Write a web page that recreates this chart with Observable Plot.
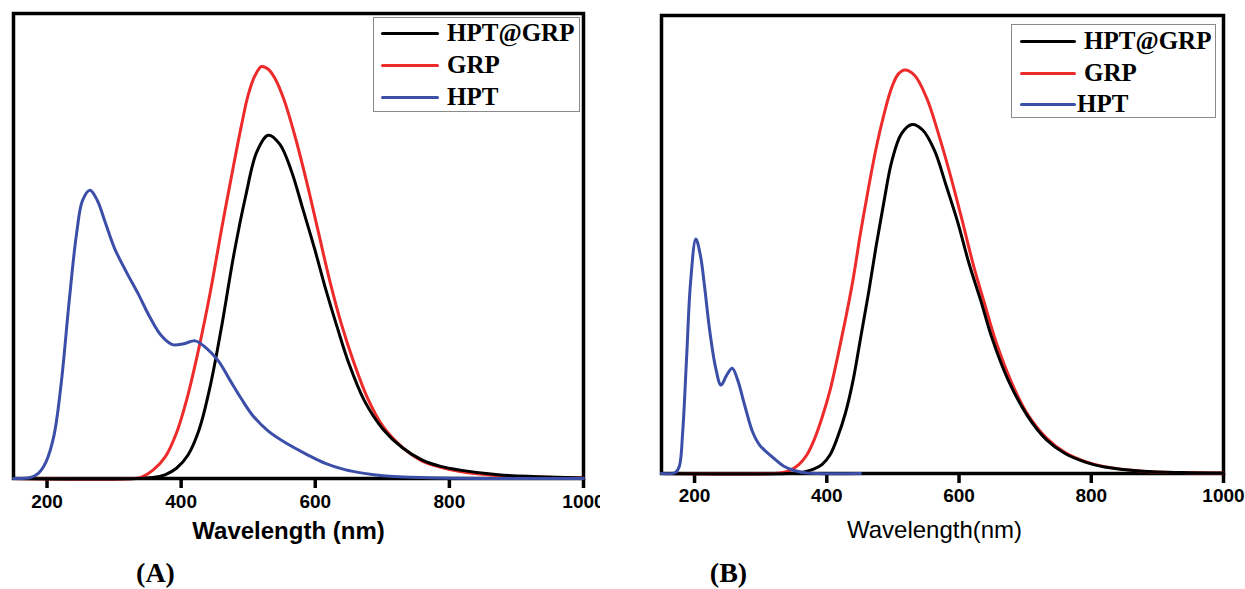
<!DOCTYPE html>
<html><head><meta charset="utf-8">
<script src="https://cdn.jsdelivr.net/npm/d3@7"></script>
<script src="https://cdn.jsdelivr.net/npm/@observablehq/plot@0.6"></script>
<style>
body{margin:0;background:#fff;}
#wrap{position:relative;width:1245px;height:589px;overflow:hidden;background:#fff;}
.panel{position:absolute;top:0;}
.legend{position:absolute;border:1px solid #8a8a8a;background:#fff;box-sizing:border-box;}
.sw{position:absolute;height:3px;border-radius:1.5px;}
.lt{position:absolute;font-family:"Liberation Serif","Times New Roman",serif;font-weight:bold;font-size:25px;line-height:25px;white-space:nowrap;color:#000;}
</style></head><body><div id="wrap"></div>
<script>
const seriesNames = ["HPT@GRP", "GRP", "HPT"];
const seriesColors = ["#000000", "#ee2b2b", "#3c4fa8"];
const xTicks = [200, 400, 600, 800, 1000];
const xDomain = [150, 1000];
const panelLabels = ["(A)", "(B)"];
const axisLabels = ["Wavelength (nm)", "Wavelength(nm)"];

// Panel A
const aHgNm = [150, 358, 376, 393, 410, 427, 444, 461, 478, 496, 513, 530, 547, 564, 581, 599, 616, 633, 650, 673, 701, 730, 759, 787, 816, 873, 930, 1000];
const aHgI  = [0, 0.002, 0.008, 0.022, 0.050, 0.106, 0.203, 0.332, 0.477, 0.606, 0.703, 0.738, 0.719, 0.663, 0.582, 0.494, 0.405, 0.324, 0.248, 0.168, 0.106, 0.066, 0.040, 0.026, 0.018, 0.008, 0.004, 0.001];
const aGrpNm = [150, 330, 341, 358, 376, 393, 410, 427, 444, 461, 478, 490, 500, 510, 520, 530, 540, 553, 570, 587, 604, 621, 639, 656, 678, 701, 730, 759, 787, 816, 873, 930, 1000];
const aGrpI  = [0, 0, 0.003, 0.018, 0.046, 0.098, 0.179, 0.284, 0.405, 0.542, 0.672, 0.760, 0.825, 0.866, 0.886, 0.880, 0.860, 0.816, 0.735, 0.639, 0.534, 0.429, 0.332, 0.256, 0.173, 0.112, 0.067, 0.038, 0.024, 0.015, 0.006, 0.003, 0.001];
const aHptNm = [150, 175, 187, 198, 210, 221, 233, 244, 253, 264, 275, 287, 301, 318, 336, 353, 370, 387, 404, 421, 438, 456, 473, 490, 507, 530, 559, 587, 616, 644, 673, 701, 759, 850, 1000];
const aHptI  = [0, 0.002, 0.011, 0.034, 0.090, 0.203, 0.381, 0.526, 0.598, 0.620, 0.598, 0.550, 0.494, 0.445, 0.397, 0.348, 0.308, 0.288, 0.290, 0.296, 0.280, 0.252, 0.211, 0.171, 0.135, 0.102, 0.074, 0.052, 0.032, 0.019, 0.011, 0.006, 0.002, 0, 0];

// Panel B
const bHgNm = [150, 340, 364, 381, 393, 405, 416, 428, 440, 451, 463, 475, 487, 498, 513, 529, 545, 563, 580, 598, 615, 633, 650, 674, 703, 732, 761, 791, 820, 878, 937, 1000];
const bHgI  = [0, 0, 0.003, 0.010, 0.020, 0.041, 0.078, 0.131, 0.205, 0.295, 0.393, 0.500, 0.598, 0.680, 0.742, 0.762, 0.750, 0.705, 0.631, 0.549, 0.459, 0.377, 0.295, 0.205, 0.127, 0.074, 0.043, 0.025, 0.014, 0.005, 0.002, 0.001];
const bGrpNm = [150, 320, 334, 346, 358, 370, 381, 393, 405, 416, 428, 440, 451, 463, 475, 487, 498, 508, 518, 533, 551, 568, 586, 604, 621, 639, 656, 680, 703, 732, 761, 791, 820, 878, 937, 1000];
const bGrpI  = [0, 0, 0.002, 0.008, 0.020, 0.041, 0.074, 0.123, 0.182, 0.252, 0.335, 0.426, 0.525, 0.623, 0.713, 0.787, 0.842, 0.872, 0.881, 0.869, 0.820, 0.746, 0.656, 0.557, 0.459, 0.369, 0.287, 0.197, 0.131, 0.078, 0.045, 0.026, 0.015, 0.005, 0.002, 0.001];
const bHptNm = [150, 171, 177, 182, 188, 194, 202, 209, 215, 223, 232, 240, 248, 257, 265, 276, 288, 299, 317, 335, 352, 370, 451];
const bHptI  = [0, 0.002, 0.016, 0.090, 0.254, 0.418, 0.512, 0.475, 0.410, 0.311, 0.230, 0.193, 0.213, 0.230, 0.205, 0.148, 0.090, 0.061, 0.037, 0.016, 0.006, 0.001, 0];

function rows(nm, vals, s) { return nm.map((x, i) => ({nm: x, v: vals[i], s})); }

const panelAData = [
  ...rows(aGrpNm, aGrpI, "GRP"),
  ...rows(aHgNm, aHgI, "HPT@GRP"),
  ...rows(aHptNm, aHptI, "HPT")
];
const panelBData = [
  ...rows(bGrpNm, bGrpI, "GRP"),
  ...rows(bHgNm, bHgI, "HPT@GRP"),
  ...rows(bHptNm, bHptI, "HPT")
];

function makePanel(data, cfg) {
  return Plot.plot({
    width: cfg.width, height: 589,
    marginLeft: cfg.ml, marginRight: cfg.mr, marginTop: cfg.mt, marginBottom: cfg.mb,
    x: {domain: xDomain},
    y: {domain: [0, 1], axis: null},
    color: {domain: seriesNames, range: seriesColors},
    style: {fontFamily: "'Liberation Sans', Arial, sans-serif", overflow: "hidden", background: "transparent", color: "#000"},
    marks: [
      Plot.frame({stroke: "#000", strokeWidth: 3.5}),
      Plot.axisX({ticks: xTicks, tickSize: 10, tickPadding: cfg.tp, stroke: "#000", strokeWidth: 3.5, fontSize: 19, fontWeight: "bold", label: null, tickFormat: d => String(d)}),
      Plot.line(data, {x: "nm", y: "v", z: "s", stroke: "s", strokeWidth: 3, curve: "catmull-rom", strokeLinejoin: "round"}),
      Plot.text([cfg.axisLabel], {text: d => d, frameAnchor: "bottom", dx: cfg.ldx, dy: cfg.ldy, fontSize: 24, fontWeight: cfg.lw, fill: "#000"}),
      Plot.text([cfg.panelLabel], {text: d => d, frameAnchor: "bottom", dx: cfg.pdx, dy: cfg.pdy, fontSize: 28, fontWeight: "bold", fontFamily: "'Liberation Serif', 'Times New Roman', serif", fill: "#000"})
    ]
  });
}

const wrap = document.getElementById("wrap");

const pA = makePanel(panelAData, {width: 600, ml: 13, mr: 17, mt: 13, mb: 111, tp: 6, axisLabel: axisLabels[0], ldx: -10, ldy: 60, lw: "bold", panelLabel: panelLabels[0], pdx: -143, pdy: 103});
pA.classList.add("panel"); pA.style.left = "0px";
wrap.appendChild(pA);

const pB = makePanel(panelBData, {width: 605, ml: 21, mr: 22, mt: 15, mb: 116, tp: 5, axisLabel: axisLabels[1], ldx: -8, ldy: 64, lw: "normal", panelLabel: panelLabels[1], pdx: -214, pdy: 108});
pB.classList.add("panel"); pB.style.left = "640px";
wrap.appendChild(pB);

function legend(cfg) {
  const box = document.createElement("div");
  box.className = "legend";
  Object.assign(box.style, {left: cfg.left + "px", top: cfg.top + "px", width: cfg.w + "px", height: cfg.h + "px"});
  wrap.appendChild(box);
  seriesNames.forEach((name, i) => {
    const sw = document.createElement("div");
    sw.className = "sw";
    Object.assign(sw.style, {left: cfg.lineX + "px", top: (cfg.rows[i] - 1.5) + "px", width: cfg.lineW + "px", background: seriesColors[i]});
    wrap.appendChild(sw);
    const t = document.createElement("div");
    t.className = "lt";
    t.textContent = name;
    Object.assign(t.style, {left: cfg.textX[i] + "px", top: (cfg.rows[i] - 12.7) + "px"});
    wrap.appendChild(t);
  });
}
legend({left: 373, top: 17, w: 207, h: 95, lineX: 381, lineW: 58, rows: [33, 65, 97], textX: [447, 447, 447]});
legend({left: 1011, top: 24, w: 205, h: 94, lineX: 1020, lineW: 56, rows: [41, 73, 104], textX: [1084, 1084, 1077]});
</script></body></html>
